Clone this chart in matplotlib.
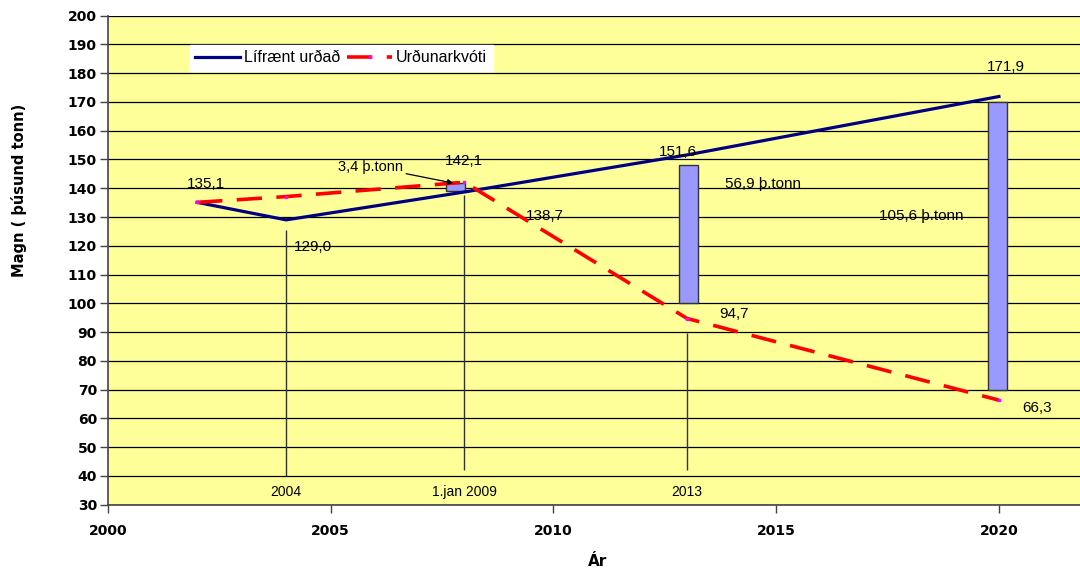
import matplotlib
matplotlib.use("Agg")
import matplotlib.pyplot as plt

plt.rcParams['font.family'] = ['Liberation Sans', 'DejaVu Sans']

# Data
years = [2002, 2004, 2008, 2013, 2020]
lifraent = [135.1, 129.0, 138.7, 151.6, 171.9]
kvoti = [135.1, 137.1, 142.1, 94.7, 66.3]

bar_x = [2007.8, 2013.03, 2019.96]
bar_bottom = [139.0, 100.2, 69.9]
bar_top = [141.9, 148.0, 169.9]

vline_x = [2004, 2008, 2013]
vline_top = [125.5, 137.6, 89.7]
vline_bottom = [40, 42, 42]
vline_labels = ["2004", "1.jan 2009", "2013"]

point_labels = [
    ("135,1", 2002.2, 141.5),
    ("129,0", 2004.6, 119.5),
    ("142,1", 2008.0, 149.5),
    ("138,7", 2009.8, 130.5),
    ("151,6", 2012.8, 152.5),
    ("94,7", 2014.05, 96.3),
    ("171,9", 2020.15, 182.0),
    ("66,3", 2020.85, 63.5),
]
diff_labels = [
    ("56,9 þ.tonn", 2014.7, 141.5),
    ("105,6 þ.tonn", 2018.25, 130.5),
]

fig = plt.figure(figsize=(10.8, 5.74), dpi=100)
ax = fig.add_axes([0.1, 0.121, 0.9, 0.8516])
ax.set_facecolor('#FFFF99')
ax.set_xlim(2000, 2021.82)
ax.set_ylim(30, 200)

ax.set_yticks(range(30, 201, 10))
ax.set_xticks([2000, 2005, 2010, 2015, 2020])
ax.grid(axis='y', color='black', linewidth=0.9)
ax.set_axisbelow(True)
for s in ['top', 'right']:
    ax.spines[s].set_visible(False)
for s in ['left', 'bottom']:
    ax.spines[s].set_color('#444444')
    ax.spines[s].set_linewidth(1.2)
ax.tick_params(axis='both', direction='out', length=6, width=1, color='#444444')
for lab in ax.get_xticklabels() + ax.get_yticklabels():
    lab.set_fontweight('bold')
    lab.set_fontsize(10)
    lab.set_family('DejaVu Sans')
ax.tick_params(axis='x', pad=8)
ax.tick_params(axis='y', pad=2)

# bars
for x, b, t in zip(bar_x, bar_bottom, bar_top):
    ax.bar(x, t - b, bottom=b, width=0.43, color='#9999FF',
           edgecolor='#333333', linewidth=1, zorder=2)

# vertical lines
ax.vlines(vline_x, vline_bottom, vline_top, color='#333333', linewidth=1, zorder=2)
for x, lab in zip(vline_x, vline_labels):
    ax.text(x, 34.3, lab, ha='center', va='center', fontsize=10, zorder=3)

# lines
ax.plot(years, lifraent, color='#000080', linewidth=2.3, label='Lífrænt urðað', zorder=4)
ax.plot(years, kvoti, color='#FF0000', linewidth=2.6, dashes=(7, 4),
        marker='s', markersize=1.5, markerfacecolor='#FF00FF',
        markeredgecolor='#FF00FF', label='Urðunarkvóti', zorder=4)

for lab, x, y in point_labels + diff_labels:
    ax.text(x, y, lab, ha='center', va='center', fontsize=11, zorder=5)

ax.annotate("3,4 þ.tonn", xy=(2007.75, 141.8), xytext=(2005.9, 147.5),
            ha='center', va='center', fontsize=10.5,
            arrowprops=dict(arrowstyle='-|>', color='black', lw=0.9,
                            mutation_scale=8, shrinkA=0, shrinkB=0),
            zorder=5)

leg = ax.legend(loc='upper left', bbox_to_anchor=(0.084, 0.941), ncol=2,
                frameon=True, fancybox=False, framealpha=1, edgecolor='white',
                fontsize=11.5, handlelength=2.8, handletextpad=0.25,
                columnspacing=0.45, borderpad=0.35, borderaxespad=0)
leg.set_zorder(6)

ax.set_xlabel('Ár', fontsize=11, fontweight='bold', family='DejaVu Sans')
ax.set_ylabel('Magn ( þúsund tonn)', fontsize=10.5, fontweight='bold', family='DejaVu Sans')
ax.xaxis.set_label_coords(0.504, -0.102)
ax.yaxis.set_label_coords(-0.083, 0.643)

fig.savefig('out.png', dpi=100)
